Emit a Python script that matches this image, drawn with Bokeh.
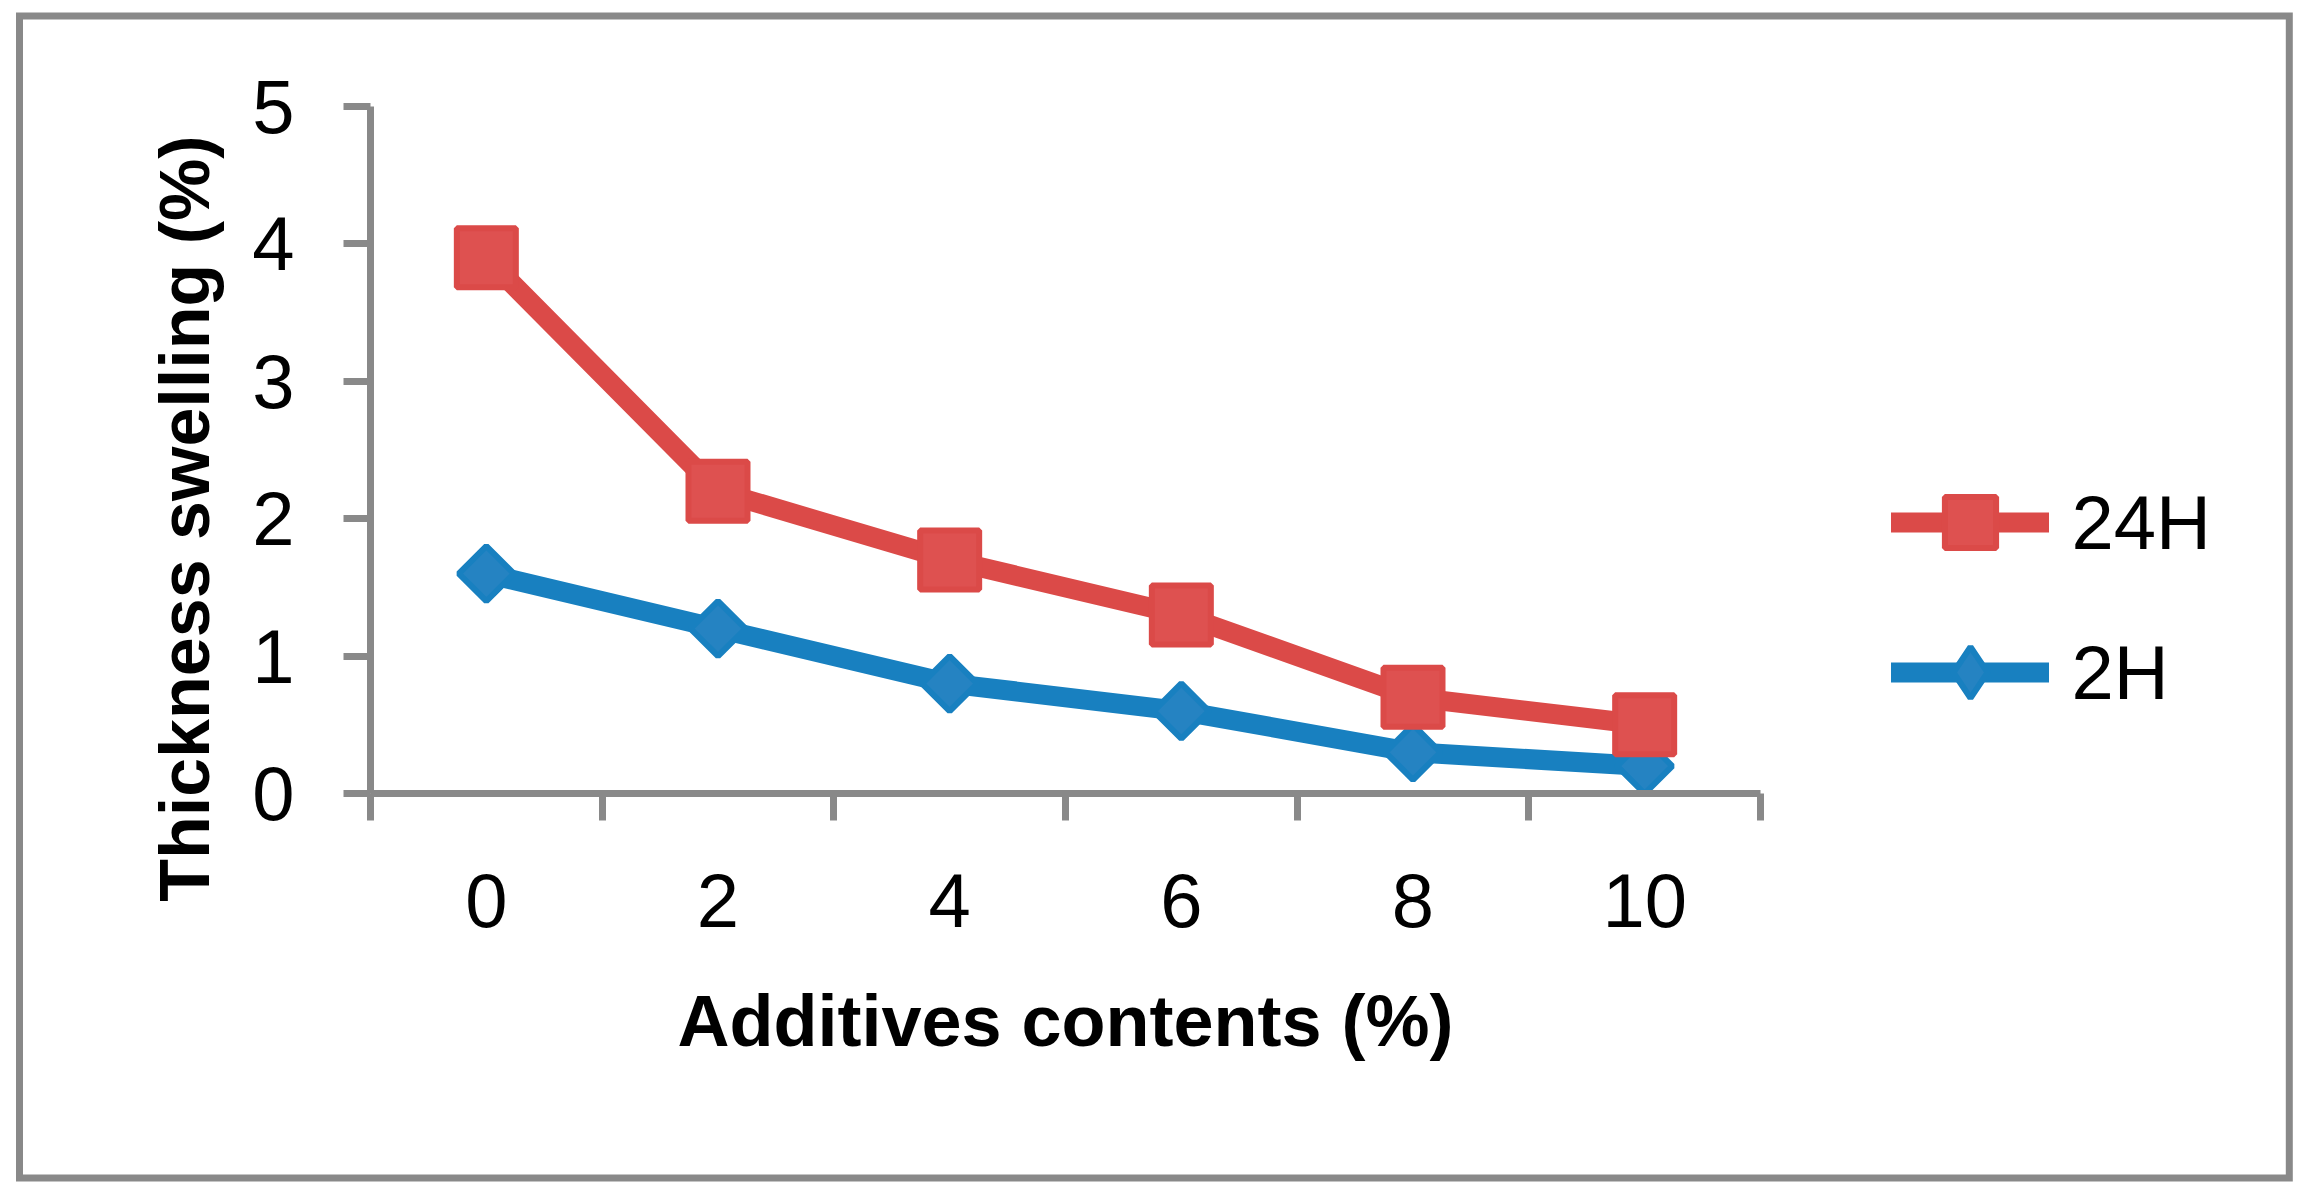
import math
from bokeh.plotting import figure
from bokeh.models import FixedTicker, Legend, LegendItem, Title, Range1d
from bokeh.embed import file_html
from bokeh.resources import INLINE

# ---- data ----
x_vals = [0, 2, 4, 6, 8, 10]
x_labels = ["0", "2", "4", "6", "8", "10"]
y_ticks = [0, 1, 2, 3, 4, 5]
series_24h = [3.9, 2.2, 1.7, 1.3, 0.7, 0.5]
series_2h = [1.6, 1.2, 0.8, 0.6, 0.3, 0.2]
series_names = ["24H", "2H"]

GRAY = "#898989"
RED_LINE, RED_FILL = "#DB4A48", "#DE5150"
BLUE_LINE, BLUE_FILL = "#1880C0", "#2583C2"
FONT = "Liberation Sans"

step = x_vals[1] - x_vals[0]
bounds = [v - step / 2 for v in x_vals] + [x_vals[-1] + step / 2]

# layout: the axis part spans 1390 px; the frame is extended to the right to hold the legend
W, H = 2300, 1192
LEFT, TOP, BOTTOM, RIGHT = 370, 106, 399, 77
AXIS_PX = 1390
frame_w = W - LEFT - RIGHT
x_end = bounds[0] + (bounds[-1] - bounds[0]) * frame_w / AXIS_PX

p = figure(width=W, height=H,
           x_range=Range1d(bounds[0], x_end), y_range=Range1d(y_ticks[0], y_ticks[-1]),
           output_backend="svg", toolbar_location=None,
           min_border_left=LEFT, min_border_right=RIGHT, min_border_top=TOP, min_border_bottom=BOTTOM)
p.xgrid.visible = False
p.ygrid.visible = False
p.outline_line_color = None
p.background_fill_color = "white"
p.border_fill_alpha = 0
p.styles = {
    "background-color": "white",
    "box-shadow": "inset 4.4px 1px 0 11.6px white, inset 4.4px 1px 0 18.6px #898989",
}

# series (2H drawn first so 24H is on top)
bl = p.line(x_vals, series_2h, line_width=20, line_color=BLUE_LINE, line_cap="round", line_join="round")
bm = p.scatter(x_vals, series_2h, marker="square", angle=math.pi / 4, size=39,
               fill_color=BLUE_FILL, line_color=BLUE_LINE, line_width=6)
bleg = p.scatter(x_vals, series_2h, marker="diamond", size=0,
                 fill_color=BLUE_FILL, line_color=BLUE_LINE, line_width=6)
rl = p.line(x_vals, series_24h, line_width=20, line_color=RED_LINE, line_cap="round", line_join="round")
rm = p.scatter(x_vals, series_24h, marker="square", size=59,
               fill_color=RED_FILL, line_color=RED_LINE, line_width=6)

# x axis
xa = p.xaxis[0]
xa.bounds = (bounds[0], bounds[-1])
xa.ticker = FixedTicker(ticks=x_vals, minor_ticks=bounds)
xa.major_label_overrides = {v: l for v, l in zip(x_vals, x_labels)}
xa.major_tick_line_color = None
xa.major_tick_out = 0
xa.major_tick_in = 0
xa.minor_tick_line_color = GRAY
xa.minor_tick_line_width = 7
xa.minor_tick_out = 27
xa.minor_tick_in = 0
xa.axis_line_color = GRAY
xa.axis_line_width = 7
xa.major_label_text_font = FONT
xa.major_label_text_font_size = "76px"
xa.major_label_text_color = "black"
xa.major_label_standoff = 53

xtitle = Title(text="Additives contents (%)", align="left", offset=307, vertical_align="top",
               standoff=103, text_font=FONT, text_font_size="72px", text_font_style="bold",
               text_color="black")
p.add_layout(xtitle, "below")

# y axis
ya = p.yaxis[0]
ya.ticker = FixedTicker(ticks=y_ticks)
ya.major_tick_line_color = GRAY
ya.major_tick_line_width = 7
ya.major_tick_out = 27
ya.major_tick_in = 0
ya.minor_tick_line_color = None
ya.axis_line_color = GRAY
ya.axis_line_width = 7
ya.major_label_text_font = FONT
ya.major_label_text_font_size = "76px"
ya.major_label_text_color = "black"
ya.major_label_standoff = 49

ytitle = Title(text="Thickness swelling (%)", align="right", offset=29, vertical_align="bottom",
               standoff=52, text_font=FONT, text_font_size="70px", text_font_style="bold",
               text_color="black")
p.add_layout(ytitle, "left")

legend = Legend(items=[LegendItem(label=series_names[0], renderers=[rl, rm]),
                       LegendItem(label=series_names[1], renderers=[bl, bleg])],
                location=(1520.5, 57), glyph_width=158, glyph_height=128, label_height=128,
                spacing=22, label_standoff=23, padding=0, margin=0,
                border_line_color=None, background_fill_alpha=0,
                label_text_font=FONT, label_text_font_size="76px", label_text_color="black")
p.add_layout(legend)

open("out.html", "w").write(file_html(p, INLINE))
